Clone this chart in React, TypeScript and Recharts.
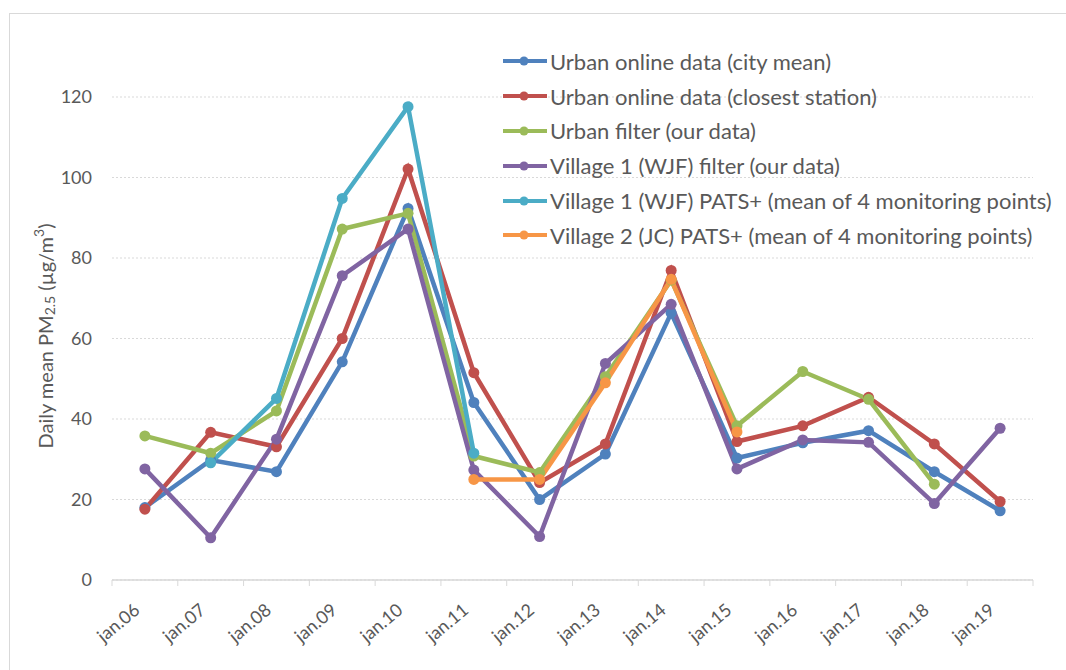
import { LineChart, Line, XAxis, YAxis, CartesianGrid } from 'recharts';

const categories = [
  'jan.06', 'jan.07', 'jan.08', 'jan.09', 'jan.10', 'jan.11', 'jan.12',
  'jan.13', 'jan.14', 'jan.15', 'jan.16', 'jan.17', 'jan.18', 'jan.19',
];

const cityMean = [18, 29.8, 26.9, 54.2, 92.3, 44.1, 20, 31.3, 66.3, 30.3, 34.1, 37.1, 26.9, 17.2];
const closestStation = [17.6, 36.7, 33.1, 60, 102.1, 51.5, 24.2, 33.8, 76.9, 34.4, 38.3, 45.4, 33.8, 19.5];
const urbanFilter = [35.8, 31.5, 42, 87.2, 91.1, 30.8, 26.7, 50.5, 74.5, 38.3, 51.8, 44.9, 23.8, null];
const village1Filter = [27.6, 10.5, 35, 75.6, 87.2, 27.3, 10.8, 53.8, 68.5, 27.6, 34.8, 34.2, 19, 37.7];
const village1Pats = [null, 29.1, 45.1, 94.8, 117.6, 31.5, null, null, null, null, null, null, null, null];
const village2Pats = [null, null, null, null, null, 25, 25, 49, 74.7, 36.8, null, null, null, null];

const yTicks = [0, 20, 40, 60, 80, 100, 120];

const series = [
  { key: 'cityMean', name: 'Urban online data (city mean)', color: '#4F81BD', values: cityMean },
  { key: 'closest', name: 'Urban online data (closest station)', color: '#C0504D', values: closestStation },
  { key: 'urbanFilter', name: 'Urban filter (our data)', color: '#9BBB59', values: urbanFilter },
  { key: 'v1Filter', name: 'Village 1 (WJF) filter (our data)', color: '#8064A2', values: village1Filter },
  { key: 'v1Pats', name: 'Village 1 (WJF) PATS+ (mean of 4 monitoring points)', color: '#4BACC6', values: village1Pats },
  { key: 'v2Pats', name: 'Village 2 (JC) PATS+ (mean of 4 monitoring points)', color: '#F79646', values: village2Pats },
];

const data = categories.map((c, i) => {
  const row: Record<string, unknown> = { day: c };
  for (const s of series) row[s.key] = s.values[i];
  return row;
});

const W = 1066;
const H = 670;
const PLOT_LEFT = 112;
const PLOT_RIGHT = 33;
const PLOT_W = W - PLOT_LEFT - PLOT_RIGHT;
const FONT = 'Lato, "Open Sans", sans-serif';
const TEXT = '#595959';
const AXIS = '#d9d9d9';

function XTick(props: any) {
  const { x, y, payload, index } = props;
  const band = PLOT_W / categories.length;
  const last = index === categories.length - 1;
  const ax = x - 4;
  const ay = y + 32;
  return (
    <g>
      <line x1={x - band / 2} x2={x - band / 2} y1={y} y2={y + 6} stroke={AXIS} />
      {last && <line x1={x + band / 2} x2={x + band / 2} y1={y} y2={y + 6} stroke={AXIS} />}
      <text
        x={ax}
        y={ay}
        transform={`rotate(-40 ${ax} ${ay})`}
        textAnchor="end"
        fill={TEXT}
        fontSize={18}
        fontFamily={FONT}
      >
        {payload.value}
      </text>
    </g>
  );
}

function YLabel() {
  const cx = 45;
  const cy = 336;
  return (
    <text
      x={cx}
      y={cy}
      transform={`rotate(-90 ${cx} ${cy})`}
      textAnchor="middle"
      dominantBaseline="central"
      fill={TEXT}
      fontSize={20}
      fontFamily={FONT}
    >
      Daily mean PM
      <tspan fontSize={14} dy={4}>2.5</tspan>
      <tspan dy={-4}> (µg/m</tspan>
      <tspan fontSize={14} dy={-7}>3</tspan>
      <tspan dy={7}>)</tspan>
    </text>
  );
}

function LegendBox() {
  return (
    <div style={{ position: 'absolute', left: 502, top: 44, fontFamily: FONT }}>
      {series.map((s) => (
        <div key={s.key} style={{ display: 'flex', alignItems: 'center', height: 34.8 }}>
          <svg width={47} height={12} style={{ marginRight: 1 }}>
            <line x1={1} x2={45} y1={6} y2={6} stroke={s.color} strokeWidth={4} />
            <circle cx={22} cy={6} r={4.5} fill={s.color} />
          </svg>
          <span style={{ fontSize: 22, color: TEXT, whiteSpace: 'nowrap' }}>{s.name}</span>
        </div>
      ))}
    </div>
  );
}

export default function App() {
  return (
    <div style={{ position: 'absolute', left: 0, top: 0, width: W, height: H, background: '#fff', overflow: 'hidden' }}>
      <div
        style={{
          position: 'absolute',
          left: 9,
          top: 13,
          width: W,
          height: H,
          borderLeft: `1px solid ${AXIS}`,
          borderTop: `1px solid ${AXIS}`,
        }}
      />
      <LineChart
        width={W}
        height={H}
        data={data}
        margin={{ top: 97, right: PLOT_RIGHT, bottom: 30, left: 0 }}
        style={{ position: 'absolute', left: 0, top: 0 }}
      >
        <CartesianGrid vertical={false} strokeDasharray="2 2" stroke={AXIS} />
        <XAxis
          dataKey="day"
          scale="band"
          height={60}
          interval={0}
          tickLine={false}
          tickSize={0}
          tickMargin={0}
          axisLine={{ stroke: AXIS, strokeWidth: 1.5 }}
          tick={<XTick />}
        />
        <YAxis
          width={PLOT_LEFT}
          domain={[0, 120]}
          ticks={yTicks}
          axisLine={false}
          tickLine={false}
          tickMargin={14}
          tick={{ fontSize: 18, fill: TEXT, fontFamily: FONT }}
          label={{ content: () => <YLabel /> }}
        />
        {series.map((s) => (
          <Line
            key={s.key}
            type="linear"
            dataKey={s.key}
            name={s.name}
            stroke={s.color}
            strokeWidth={4.5}
            dot={{ r: 5.5, fill: s.color, stroke: s.color, strokeWidth: 0 }}
            activeDot={false}
            connectNulls={false}
            isAnimationActive={false}
          />
        ))}
      </LineChart>
      <LegendBox />
    </div>
  );
}
